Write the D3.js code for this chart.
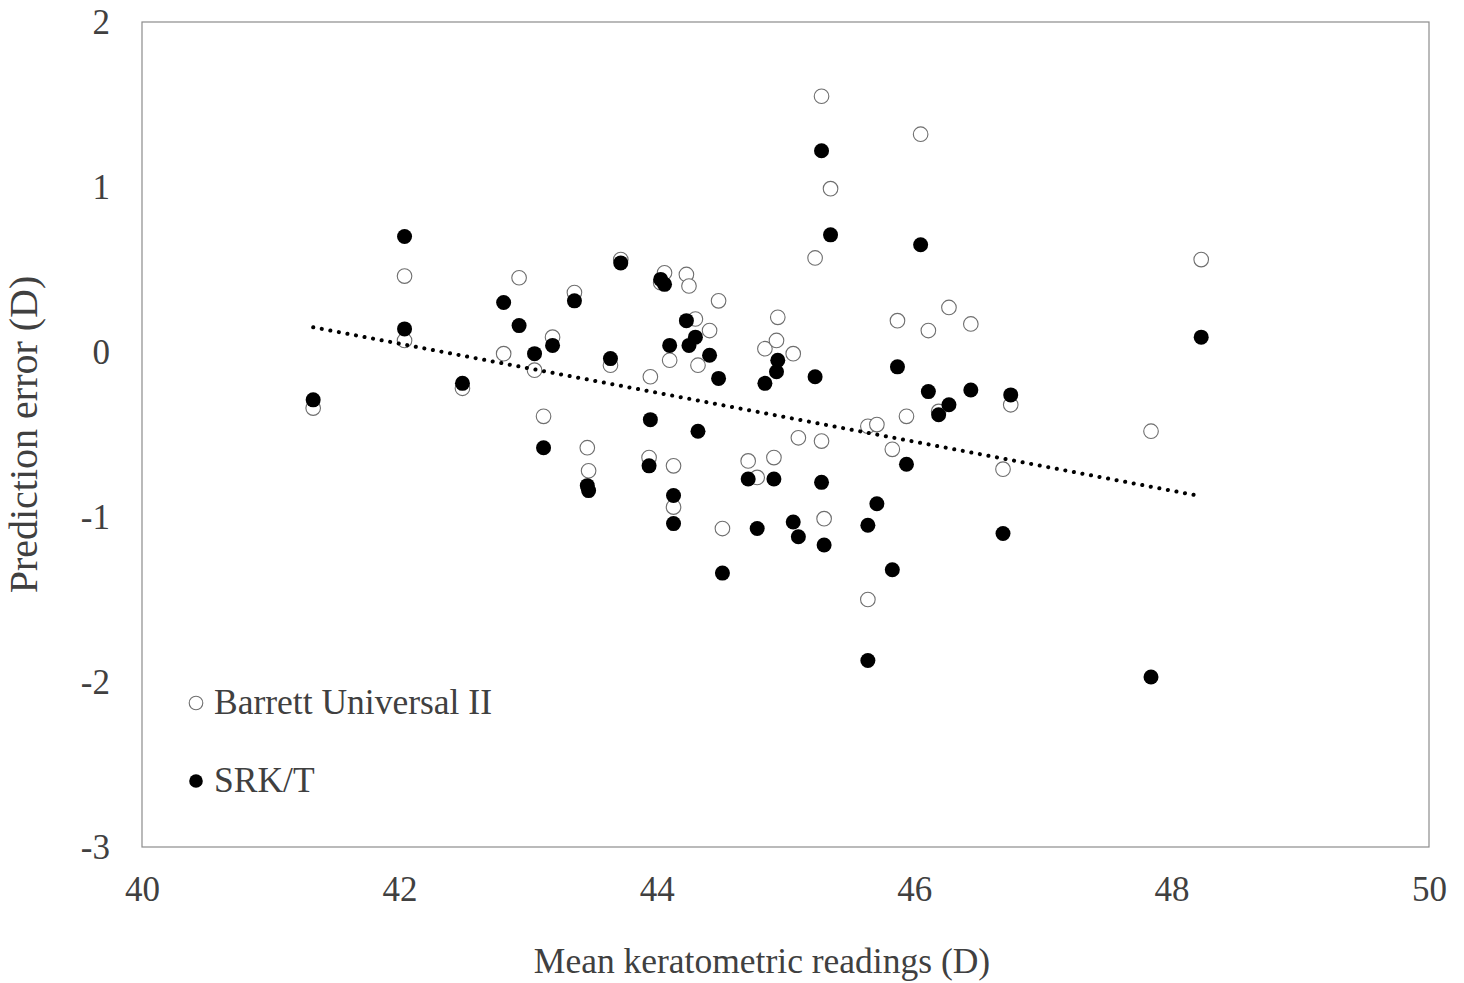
<!DOCTYPE html>
<html>
<head>
<meta charset="utf-8">
<script src="https://cdn.jsdelivr.net/npm/d3@7"></script>
<style>
  body { margin: 0; background: #fff; }
  svg text { font-family: "Liberation Serif", "Times New Roman", serif; fill: #404040; }
</style>
</head>
<body>
<svg id="chart" width="1464" height="983"></svg>
<script>
// mean keratometry per eye (D)
const kValues = [41.33, 42.04, 42.04, 42.49, 42.81, 42.93, 43.05, 43.12, 43.19, 43.36,
  43.46, 43.47, 43.64, 43.72, 43.95, 43.94, 44.03, 44.06, 44.10, 44.13,
  44.13, 44.23, 44.25, 44.30, 44.32, 44.41, 44.48, 44.51, 44.71, 44.78,
  44.84, 44.91, 44.94, 44.93, 45.06, 45.10, 45.23, 45.28, 45.28, 45.30,
  45.35, 45.64, 45.64, 45.71, 45.83, 45.87, 45.94, 46.05, 46.11, 46.19,
  46.27, 46.44, 46.69, 46.75, 47.84, 48.23];

// prediction error, Barrett Universal II
const barrettPE = [-0.34, 0.46, 0.07, -0.22, -0.01, 0.45, -0.11, -0.39, 0.09, 0.36,
  -0.58, -0.72, -0.08, 0.56, -0.15, -0.64, 0.42, 0.48, -0.05, -0.69,
  -0.94, 0.47, 0.40, 0.20, -0.08, 0.13, 0.31, -1.07, -0.66, -0.76,
  0.02, -0.64, 0.21, 0.07, -0.01, -0.52, 0.57, -0.54, 1.55, -1.01,
  0.99, -0.45, -1.50, -0.44, -0.59, 0.19, -0.39, 1.32, 0.13, -0.36,
  0.27, 0.17, -0.71, -0.32, -0.48, 0.56];

// prediction error, SRK/T
const srktPE = [-0.29, 0.70, 0.14, -0.19, 0.30, 0.16, -0.01, -0.58, 0.04, 0.31,
  -0.81, -0.84, -0.04, 0.54, -0.41, -0.69, 0.44, 0.41, 0.04, -0.87,
  -1.04, 0.19, 0.04, 0.09, -0.48, -0.02, -0.16, -1.34, -0.77, -1.07,
  -0.19, -0.77, -0.05, -0.12, -1.03, -1.12, -0.15, -0.79, 1.22, -1.17,
  0.71, -1.05, -1.87, -0.92, -1.32, -0.09, -0.68, 0.65, -0.24, -0.38,
  -0.32, -0.23, -1.10, -0.26, -1.97, 0.09];

// dotted trend line end points
const trendK = [41.33, 48.20];
const trendPE = [0.15, -0.87];

const xTicks = [40, 42, 44, 46, 48, 50];
const yTicks = [-3, -2, -1, 0, 1, 2];
const seriesNames = ["Barrett Universal II", "SRK/T"];

const svg = d3.select("#chart");
const margin = {top: 22, right: 35, bottom: 136, left: 142};
const width = 1464, height = 983;

const x = d3.scaleLinear().domain([40, 50]).range([margin.left, width - margin.right]);
const y = d3.scaleLinear().domain([-3, 2]).range([height - margin.bottom, margin.top]);

// plot frame
svg.append("rect")
    .attr("x", x(40)).attr("y", y(2))
    .attr("width", x(50) - x(40)).attr("height", y(-3) - y(2))
    .attr("fill", "none").attr("stroke", "#8c8c8c").attr("stroke-width", 1.2);

// y axis
svg.append("g")
    .attr("transform", `translate(${x(40)},0)`)
    .call(d3.axisLeft(y).tickValues(yTicks).tickSize(0).tickPadding(32).tickFormat(d => String(d)))
    .call(g => g.select(".domain").remove())
    .selectAll("text")
    .style("font-size", "35px")
    .attr("fill", "#404040");

// x axis
svg.append("g")
    .attr("transform", `translate(0,${y(-3)})`)
    .call(d3.axisBottom(x).tickValues(xTicks).tickSize(0).tickPadding(29).tickFormat(d => String(d)))
    .call(g => g.select(".domain").remove())
    .selectAll("text")
    .style("font-size", "35px")
    .attr("fill", "#404040");

// axis titles
svg.append("text")
    .attr("x", 762).attr("y", 973)
    .attr("text-anchor", "middle")
    .style("font-size", "35.5px")
    .text("Mean keratometric readings (D)");

svg.append("text")
    .attr("transform", `translate(37,${(y(2) + y(-3)) / 2}) rotate(-90)`)
    .attr("text-anchor", "middle")
    .style("font-size", "40px")
    .text("Prediction error (D)");

// points
const pts = kValues.map((k, i) => ({k, b: barrettPE[i], s: srktPE[i]}));

svg.append("g")
    .selectAll("circle")
    .data(pts)
    .join("circle")
    .attr("cx", d => x(d.k))
    .attr("cy", d => y(d.b))
    .attr("r", 7.3)
    .attr("fill", "#fff")
    .attr("stroke", "#6e6e6e")
    .attr("stroke-width", 1.1);

svg.append("g")
    .selectAll("circle")
    .data(pts)
    .join("circle")
    .attr("cx", d => x(d.k))
    .attr("cy", d => y(d.s))
    .attr("r", 7.5)
    .attr("fill", "#000");

// trend line
svg.append("line")
    .attr("x1", x(trendK[0])).attr("y1", y(trendPE[0]))
    .attr("x2", x(trendK[1])).attr("y2", y(trendPE[1]))
    .attr("stroke", "#000")
    .attr("stroke-width", 4)
    .attr("stroke-linecap", "round")
    .attr("stroke-dasharray", "0.1 8.6");

// legend
const legend = svg.append("g")
    .selectAll("g")
    .data(seriesNames)
    .join("g")
    .attr("transform", (d, i) => `translate(196,${703 + i * 78})`);

legend.append("circle")
    .attr("r", 6.8)
    .attr("fill", (d, i) => i === 0 ? "#fff" : "#000")
    .attr("stroke", (d, i) => i === 0 ? "#6e6e6e" : "none")
    .attr("stroke-width", 1.1);

legend.append("text")
    .attr("x", 18)
    .attr("y", 11)
    .style("font-size", "35.5px")
    .text(d => d);
</script>
</body>
</html>
